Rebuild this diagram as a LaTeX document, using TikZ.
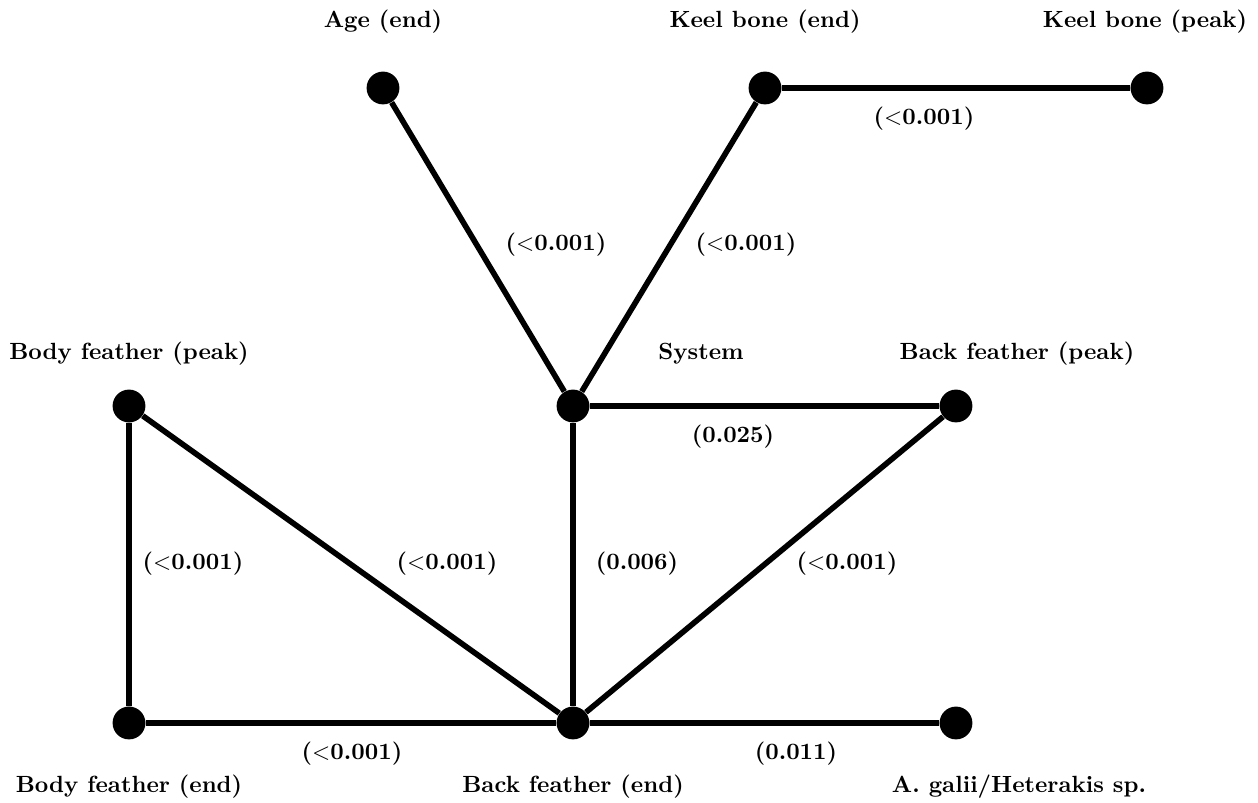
\documentclass[tikz,border=0pt]{standalone}
\usepackage{amsmath}
\usepackage{amssymb}
\usepackage{tikz}
\tikzset{
	dot/.style={circle,inner sep=0pt,minimum size=14pt,fill},
	txt/.style={font=\bfseries},
	link/.style={line width=2.4pt}
}

\begin{document}
\begin{tikzpicture}[x=1.5cm,y=-1.5cm]
						\useasboundingbox (0,0) rectangle (12.58,8.03);
						\node [dot] (age) at (3.83,0.88) {};
						\node [dot] (keelend) at (7.65,0.88) {};
						\node [dot] (keelpeak) at (11.47,0.88) {};
						\node [dot] (bodypeak) at (1.29,4.06) {};
						\node [dot] (system) at (5.73,4.06) {};
						\node [dot] (backpeak) at (9.56,4.06) {};
						\node [dot] (bodyend) at (1.29,7.23) {};
						\node [dot] (backend) at (5.73,7.23) {};
						\node [dot] (galii) at (9.56,7.23) {};
						
						\node [txt] (age-t) at (3.83,0.22) {Age (end)};
						\node [txt] (keelend-t) at (7.65,0.22) {Keel bone (end)};
						\node [txt] (keelpeak-t) at (11.45,0.22) {Keel bone (peak)};
						\node [txt] (bodypeak-t) at (1.29,3.54) {Body feather (peak)};
						\node [txt] (system-t) at (7.01,3.54) {System};
						\node [txt] (backpeak-t) at (10.17,3.54) {Back feather (peak)};
						\node [txt] (bodyend-t) at (1.29,7.87) {Body feather (end)};
						\node [txt] (backend-t) at (5.73,7.87) {Back feather (end)};
						\node [txt] (galii-t) at (10.19,7.87) {A. galii/Heterakis sp.};
						
						\draw [link] (age) -- (system) -- (keelend) -- (keelpeak);
						\draw [link] (system) -- (backpeak) -- (backend) -- (bodypeak) -- (bodyend) -- (backend) -- (galii);
						\draw [link] (system) -- (backend);
						
						\node [txt] (p1) at (5.56,2.45) {(${<}$0.001)};
						\node [txt] (p2) at (7.46,2.45) {(${<}$0.001)};
						\node [txt] (p3) at (9.24,1.19) {(${<}$0.001)};
						\node [txt] (p4) at (7.33,4.37) {(0.025)};
						\node [txt] (p5) at (1.93,5.64) {(${<}$0.001)};
						\node [txt] (p6) at (4.47,5.64) {(${<}$0.001)};
						\node [txt] (p7) at (6.37,5.64) {(0.006)};
						\node [txt] (p8) at (8.47,5.64) {(${<}$0.001)};
						\node [txt] (p9) at (3.52,7.54) {(${<}$0.001)};
						\node [txt] (p10) at (7.96,7.54) {(0.011)};
\end{tikzpicture}
\end{document}
